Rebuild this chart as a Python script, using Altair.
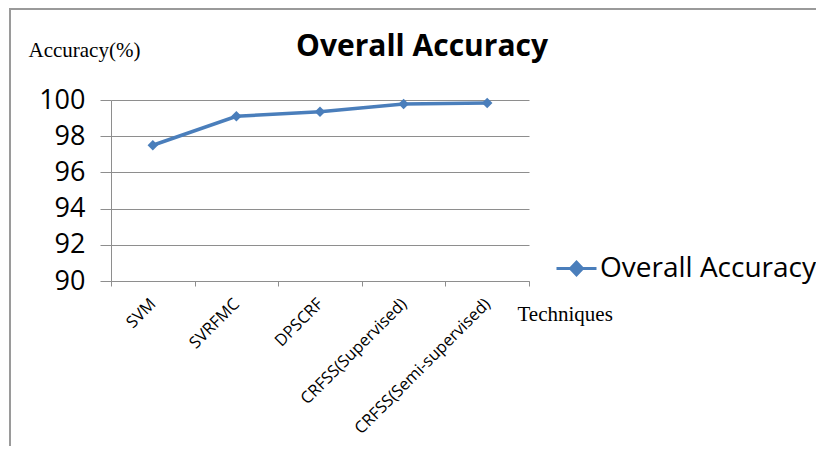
import altair as alt
import pandas as pd

techniques = ["SVM", "SVRFMC", "DPSCRF", "CRFSS(Supervised)", "CRFSS(Semi-supervised)"]
accuracy = [97.5, 99.1, 99.35, 99.78, 99.83]
series_name = "Overall Accuracy"
y_ticks = [90, 92, 94, 96, 98, 100]

BLUE = "#4a7ebb"
GREY = "#8e8e8e"
SANS = "Open Sans"
SERIF = "Liberation Serif"

df = pd.DataFrame({"technique": techniques, "accuracy": accuracy, "series": series_name})

x_enc = alt.X(
    "technique:N",
    sort=techniques,
    bandPosition=0.5,
    scale=alt.Scale(type="band", paddingInner=0, paddingOuter=0),
    axis=alt.Axis(
        title="Techniques",
        titleFont=SERIF, titleFontSize=21, titleFontWeight="normal", titleColor="black",
        titleAngle=0, titleAlign="left", titleBaseline="middle", titleX=406, titleY=33,
        tickBand="extent", tickSize=5, tickColor=GREY, domainColor=GREY,
        labelAngle=-45, labelAlign="right", labelBaseline="middle", labelPadding=15,
        labelFont=SANS, labelFontSize=16.5, labelColor="black", labelLimit=400, grid=False,
    ),
)
y_enc = alt.Y(
    "accuracy:Q",
    scale=alt.Scale(domain=[90, 100], nice=False, zero=False),
    axis=alt.Axis(
        values=y_ticks, title="Accuracy(%)",
        titleFont=SERIF, titleFontSize=21, titleFontWeight="normal", titleColor="black",
        titleAngle=0, titleAlign="left", titleBaseline="middle", titleX=-83, titleY=-50,
        tickSize=11, tickColor=GREY, domainColor=GREY, gridColor=GREY,
        labelFont=SANS, labelFontSize=27, labelColor="black", labelPadding=15,
    ),
)

base = alt.Chart(df)
line = base.mark_line(strokeWidth=3.5).encode(
    x=x_enc, y=y_enc,
    color=alt.Color(
        "series:N",
        scale=alt.Scale(range=[BLUE]),
        legend=alt.Legend(
            title=None, orient="none", legendX=444, legendY=147,
            symbolType="M-1,0L1,0M-0.3,0L0,-0.32L0.3,0L0,0.32Z",
            symbolSize=1600, symbolStrokeWidth=3, symbolFillColor=BLUE, symbolStrokeColor=BLUE,
            labelFont=SANS, labelFontSize=28, labelColor="black", labelOffset=2, labelLimit=400,
        ),
    ),
)
points = base.mark_point(shape="diamond", filled=True, size=110, color=BLUE, opacity=1).encode(x=x_enc, y=y_enc)

title_df = pd.DataFrame({"t": ["Overall Accuracy"]})
title = alt.Chart(title_df).mark_text(
    font=SANS, fontSize=30, fontWeight="bold", color="black", align="center", baseline="middle"
).encode(text="t:N", x=alt.value(311), y=alt.value(-53))

frame_top = alt.Chart(title_df).mark_rule(color="#9a9a9a", strokeWidth=2).encode(
    x=alt.value(-101), x2=alt.value(720), y=alt.value(-91)
)
frame_left = alt.Chart(title_df).mark_rule(color="#9a9a9a", strokeWidth=2).encode(
    x=alt.value(-101), y=alt.value(-92), y2=alt.value(400)
)

chart = alt.layer(frame_top, frame_left, line, points, title).properties(
    width=418, height=181,
    autosize=alt.AutoSizeParams(type="none"),
    padding={"left": 103, "top": 92, "right": 287, "bottom": 165},
    background="white",
).configure_view(stroke=None)

chart.save("out.html", embed_options={"renderer": "svg", "actions": False})
